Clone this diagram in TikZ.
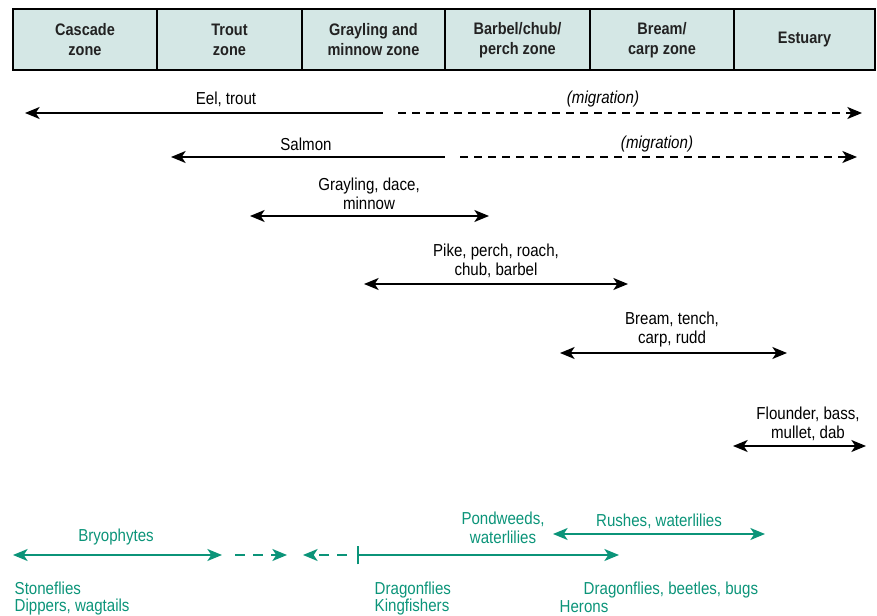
\documentclass[tikz,border=0pt]{standalone}
\usepackage{fontspec}
\setmainfont{Liberation Sans}[FakeStretch=0.87]
\usetikzlibrary{arrows.meta}

\definecolor{zonefill}{HTML}{D4E7E5}
\definecolor{headtext}{HTML}{222222}
\definecolor{plantgreen}{HTML}{0B9479}

\begin{document}
\begin{tikzpicture}[x=0.75pt, y=-0.75pt, >={Stealth[length=11pt, width=9pt, inset=3pt]},
    zonebox/.style={draw=black, line width=2.2pt, fill=zonefill},
    zonetext/.style={font=\bfseries\fontsize{12.5}{15}\selectfont, text=headtext, align=center},
    fish/.style={line width=1.3pt, black},
    migration/.style={fish, dash pattern=on 6pt off 4.5pt},
    fishlabel/.style={font=\fontsize{13}{14.25}\selectfont, align=center},
    plant/.style={line width=1.3pt, plantgreen},
    plantdash/.style={plant, dash pattern=on 7.5pt off 6pt},
    plantlabel/.style={font=\fontsize{13}{13}\selectfont, text=plantgreen, align=center}]

    \useasboundingbox (0,0) rectangle (877,616);

    % River zones along the top
    \foreach \name/\xl/\xr/\txt in {cascade/13/157/{Cascade\\zone}, trout/157/302/{Trout\\zone},
        grayling/302/445/{Grayling and\\minnow zone}, barbel/445/590/{Barbel/chub/\\perch zone},
        bream/590/734/{Bream/\\carp zone}, estuary/734/875/{Estuary}}
        \draw[zonebox] (\xl,9) rectangle (\xr,70) node[zonetext] (\name) at ({(\xl+\xr)/2},40) {\txt};

    % Eel and trout, with migration
    \coordinate (eelW) at (25,113);
    \coordinate (eelM) at (383,113);
    \coordinate (eelD) at (398,113);
    \coordinate (eelE) at (862,113);
    \node[fishlabel] (eel) at (226,99) {Eel, trout};
    \node[fishlabel, font=\itshape\fontsize{13}{14}\selectfont] (eelmig) at (603,99) {(migration)};
    \draw[fish, <-] (eelW) -- (eelM);
    \draw[migration, ->] (eelD) -- (eelE);

    % Salmon, with migration
    \coordinate (salW) at (171,157);
    \coordinate (salM) at (445,157);
    \coordinate (salD) at (460,157);
    \coordinate (salE) at (857,157);
    \node[fishlabel] (salmon) at (306,144) {Salmon};
    \node[fishlabel, font=\itshape\fontsize{13}{14}\selectfont] (salmig) at (657,144) {(migration)};
    \draw[fish, <-] (salW) -- (salM);
    \draw[migration, ->] (salD) -- (salE);

    % Fish ranges
    \coordinate (grayW) at (250,216);
    \coordinate (grayE) at (489,216);
    \node[fishlabel] (gray) at (369,194) {Grayling, dace,\\minnow};
    \draw[fish, <->] (grayW) -- (grayE);

    \coordinate (pikeW) at (364,284);
    \coordinate (pikeE) at (628,284);
    \node[fishlabel] (pike) at (496,261) {Pike, perch, roach,\\chub, barbel};
    \draw[fish, <->] (pikeW) -- (pikeE);

    \coordinate (breamW) at (560,353);
    \coordinate (breamE) at (787,353);
    \node[fishlabel] (breamfish) at (672,330) {Bream, tench,\\carp, rudd};
    \draw[fish, <->] (breamW) -- (breamE);

    \coordinate (flW) at (733,446);
    \coordinate (flE) at (866,446);
    \node[fishlabel] (flounder) at (808,424) {Flounder, bass,\\mullet, dab};
    \draw[fish, <->] (flW) -- (flE);

    % Plants
    \coordinate (bryoW) at (13,555);
    \coordinate (bryoE) at (222,555);
    \node[plantlabel] (bryo) at (116,537) {Bryophytes};
    \draw[plant, <->] (bryoW) -- (bryoE);

    \coordinate (gapA) at (235,555);
    \coordinate (gapB) at (287,555);
    \draw[plantdash, ->] (gapA) -- (gapB);

    \coordinate (gapC) at (347,555);
    \coordinate (gapD) at (303,555);
    \draw[plantdash, ->] (gapC) -- (gapD);

    \coordinate (pondW) at (357,555);
    \coordinate (pondE) at (619,555);
    \node[plantlabel, font=\fontsize{13}{14.25}\selectfont] (pond) at (503,528) {Pondweeds,\\waterlilies};
    \draw[plant, {Bar[width=14pt]}-{Stealth[length=11pt, width=9pt, inset=3pt]}] (pondW) -- (pondE);

    \coordinate (rushW) at (553,534);
    \coordinate (rushE) at (765,534);
    \node[plantlabel] (rush) at (659,521) {Rushes, waterlilies};
    \draw[plant, <->] (rushW) -- (rushE);

    % Animals
    \node[plantlabel, anchor=west, align=left] (stone) at (10,598.5) {Stoneflies\\Dippers, wagtails};
    \node[plantlabel, anchor=west, align=left] (dragon) at (370,598.5) {Dragonflies\\Kingfishers};
    \node[plantlabel, anchor=west] (beetles) at (579,590) {Dragonflies, beetles, bugs};
    \node[plantlabel, anchor=west] (herons) at (555,607) {Herons};
\end{tikzpicture}
\end{document}
